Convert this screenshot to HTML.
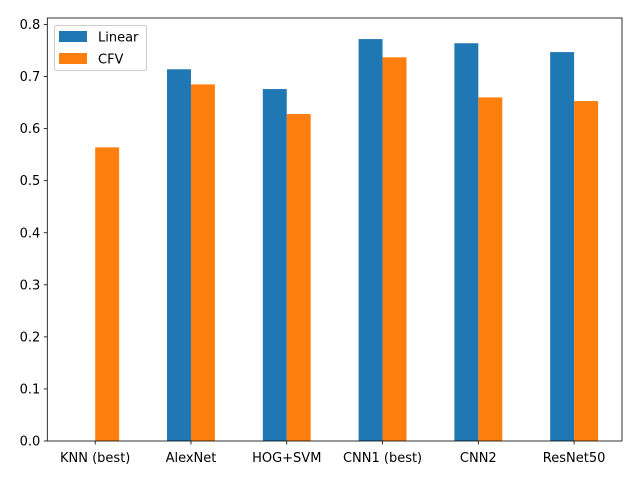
<!DOCTYPE html>
<html><head><meta charset="utf-8"><style>
body{margin:0;background:#fff;}
svg text{font-family:"DejaVu Sans","Liberation Sans",sans-serif;font-size:13px;fill:#000;}
</style></head><body>
<svg id="chart" width="640" height="480" xmlns="http://www.w3.org/2000/svg">
<g id="bars"></g><g id="axes"></g>
</svg>
<script>
const categories=["KNN (best)","AlexNet","HOG+SVM","CNN1 (best)","CNN2","ResNet50"];
const linearVals=[0,0.714,0.676,0.772,0.764,0.747];
const cfvVals=[0.564,0.685,0.628,0.737,0.660,0.653];
const yTicks=[0,0.1,0.2,0.3,0.4,0.5,0.6,0.7,0.8];
const L=47.3,R=622,T=18,B=441,YMAX=0.8125;
const NS="http://www.w3.org/2000/svg";
const unit=(R-L)/categories.length;
function xs(i){return L+(i+0.5)*unit;}
function ys(v){return B-(v/YMAX)*(B-T);}
function mk(t,a,p){const e=document.createElementNS(NS,t);for(const k in a)e.setAttribute(k,a[k]);p.appendChild(e);return e;}
const bars=document.getElementById('bars'),axes=document.getElementById('axes');
const bw=unit*0.25;
categories.forEach((c,i)=>{
 const cx=xs(i);
 let r=mk('rect',{x:cx-bw,y:ys(linearVals[i]),width:bw,height:B-ys(linearVals[i]),fill:'#1f77b4'},bars);
 
 
 let o=mk('rect',{x:cx,y:ys(cfvVals[i]),width:bw,height:B-ys(cfvVals[i]),fill:'#ff7f0e'},bars);
 
 
 mk('line',{x1:cx,x2:cx,y1:B,y2:B+3.5,stroke:'#000','stroke-width':0.8},axes);
 let t=mk('text',{x:cx,y:B+21,'text-anchor':'middle'},axes);t.textContent=c;
 
 
});
yTicks.forEach(v=>{
 const y=ys(v);
 mk('line',{x1:L-3.5,x2:L,y1:y,y2:y,stroke:'#000','stroke-width':0.8},axes);
 let t=mk('text',{x:L-7,y:y+4.5,'text-anchor':'end'},axes);t.textContent=v.toFixed(1);
 
 
});
let f=mk('rect',{x:L,y:T,width:R-L,height:B-T,fill:'none',stroke:'#000','stroke-width':0.8},axes);


const lg=mk('g',{},axes);


mk('rect',{x:54.5,y:25.5,width:92,height:45,rx:2,fill:'#fff','fill-opacity':0.8,stroke:'#ccc'},lg);
mk('rect',{x:59,y:31,width:28,height:11,fill:'#1f77b4'},lg);
mk('rect',{x:59,y:53,width:28,height:11,fill:'#ff7f0e'},lg);
let t1=mk('text',{x:98,y:41.5},lg);t1.textContent='Linear';
let t2=mk('text',{x:98,y:63.5},lg);t2.textContent='CFV';
</script>
</body></html>
